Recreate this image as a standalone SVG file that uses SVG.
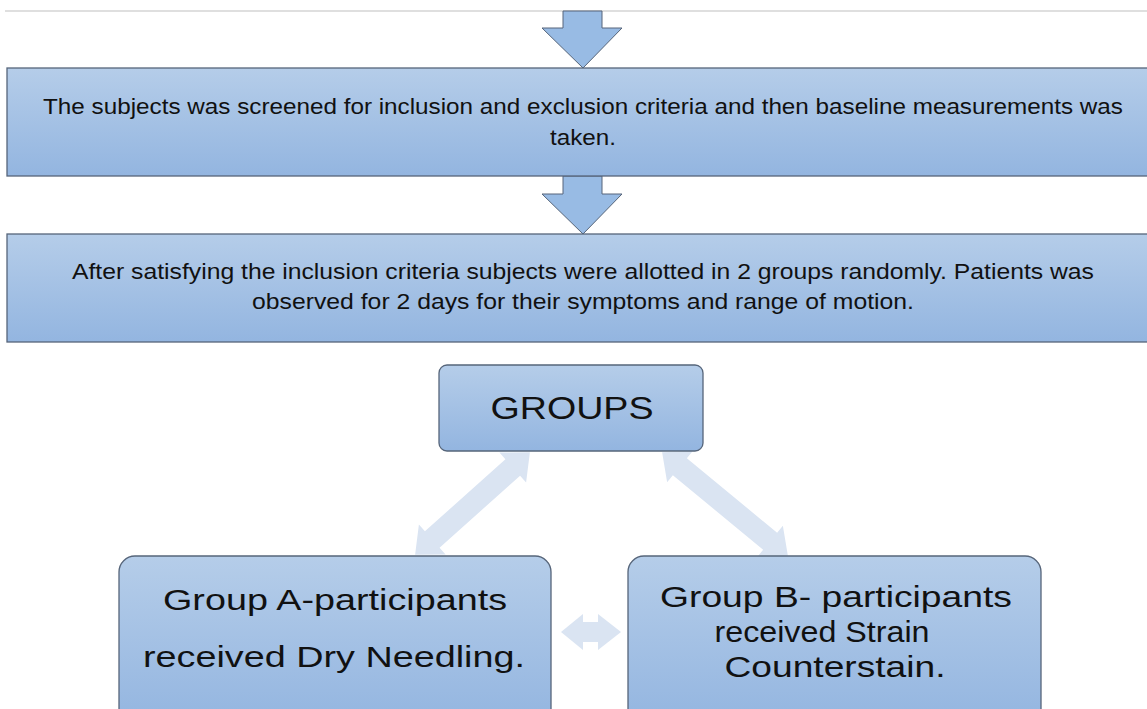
<svg xmlns="http://www.w3.org/2000/svg" width="1147" height="709" viewBox="0 0 1147 709">
<defs>
<linearGradient id="bg" x1="0" y1="0" x2="0" y2="1">
<stop offset="0" stop-color="#b5cde9"/>
<stop offset="1" stop-color="#93b5e0"/>
</linearGradient>
<style>
.box{fill:url(#bg);stroke:#56657a;stroke-width:1.3}
.down{fill:#98bbe4;stroke:#56657a;stroke-width:1}
.light{fill:#dae4f2}
.t{font-family:"Liberation Sans",Arial,sans-serif;fill:#111;text-anchor:middle}
.s{font-size:21.5px}
.m{font-size:29px}
.g{font-size:32px}
</style>
</defs>
<rect width="1147" height="709" fill="#fff"/>
<line x1="5" y1="11" x2="1147" y2="11" stroke="#d4d4d4" stroke-width="1.5"/>
<g id="connectors">
<polygon class="down" points="563,11 602,11 602,28 622,28 583,68 542,28 563,28"/>
<polygon class="down" points="563,176 602,176 602,194 622,194 583,234 542,194 563,194"/>
<polygon class="light" transform="translate(472.5,503.5) rotate(-41.8)" points="-77,0 -54,-20 -54,-11 54,-11 54,-20 77,0 54,20 54,11 -54,11 -54,20"/>
<polygon class="light" transform="translate(725,504) rotate(39.5)" points="-81.5,0 -58.5,-20 -58.5,-11 58.5,-11 58.5,-20 81.5,0 58.5,20 58.5,11 -58.5,11 -58.5,20"/>
<polygon class="light" points="561,632 583,614 583,622 598,622 598,614 621,632 598,650 598,642 583,642 583,650"/>
</g>
<g id="screening">
<rect class="box" x="7" y="68" width="1150" height="108"/>
<text class="t s" x="583" y="114" textLength="1080" lengthAdjust="spacingAndGlyphs">The subjects was screened for inclusion and exclusion criteria and then baseline measurements was</text>
<text class="t s" x="583" y="145" textLength="66" lengthAdjust="spacingAndGlyphs">taken.</text>
</g>
<g id="allotment">
<rect class="box" x="7" y="234" width="1150" height="108"/>
<text class="t s" x="583" y="279" textLength="1022" lengthAdjust="spacingAndGlyphs">After satisfying the inclusion criteria subjects were allotted in 2 groups randomly. Patients was</text>
<text class="t s" x="583" y="309" textLength="662" lengthAdjust="spacingAndGlyphs">observed for 2 days for their symptoms and range of motion.</text>
</g>
<g id="groups">
<rect class="box" x="439" y="365" width="264" height="86" rx="8"/>
<text class="t g" x="572" y="419" textLength="163" lengthAdjust="spacingAndGlyphs">GROUPS</text>
</g>
<g id="groupA">
<rect class="box" x="119" y="556" width="432" height="170" rx="16"/>
<text class="t m" x="335" y="610" textLength="344" lengthAdjust="spacingAndGlyphs">Group A-participants</text>
<text class="t m" x="334" y="667" textLength="382" lengthAdjust="spacingAndGlyphs">received Dry Needling.</text>
</g>
<g id="groupB">
<rect class="box" x="628" y="556" width="413" height="170" rx="16"/>
<text class="t m" x="836" y="607" textLength="352" lengthAdjust="spacingAndGlyphs">Group B- participants</text>
<text class="t m" x="822" y="642" textLength="215" lengthAdjust="spacingAndGlyphs">received Strain</text>
<text class="t m" x="835" y="677" textLength="221" lengthAdjust="spacingAndGlyphs">Counterstain.</text>
</g>
</svg>
